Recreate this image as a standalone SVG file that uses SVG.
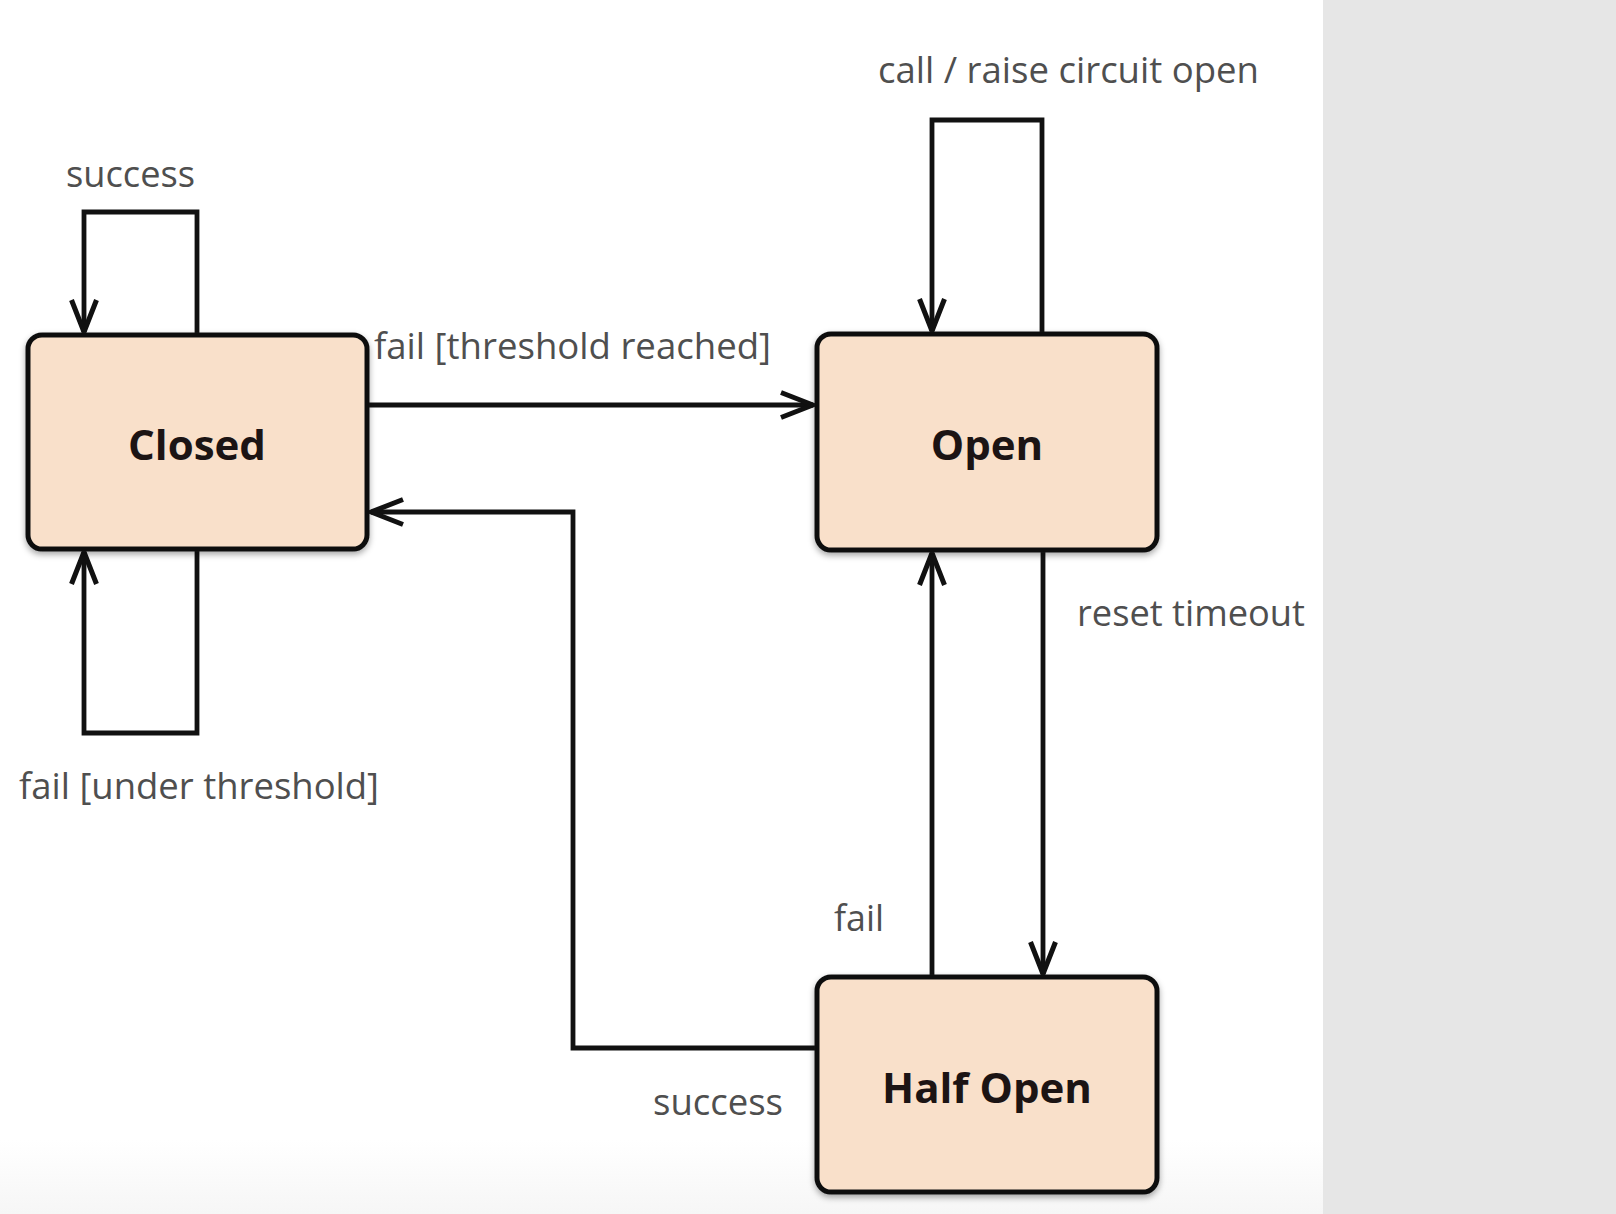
<svg xmlns="http://www.w3.org/2000/svg" width="1616" height="1214" viewBox="0 0 1616 1214">
<defs>
<linearGradient id="bottomFade" x1="0" y1="0" x2="0" y2="1">
<stop offset="0" stop-color="#ffffff"/>
<stop offset="1" stop-color="#f6f6f6"/>
</linearGradient>
<filter id="shadow" x="-10%" y="-10%" width="120%" height="130%">
<feDropShadow dx="0" dy="3" stdDeviation="3" flood-color="#000" flood-opacity="0.35"/>
</filter>
<marker id="arrow" viewBox="-36 -15 40 30" markerWidth="40" markerHeight="30" refX="0" refY="0" orient="auto" markerUnits="userSpaceOnUse">
<path d="M-32,-12.5 L0,0 L-32,12.5" fill="none" stroke="#111" stroke-width="5" stroke-linejoin="miter"/>
</marker>
</defs>
<style>
.node rect { fill: #f9e0ca; stroke: #111; stroke-width: 5; filter: url(#shadow); }
.node text { font-family: "Open Sans", "Noto Sans", sans-serif; font-weight: bold; font-size: 42px; fill: #1c1414; text-anchor: middle; }
.edge { fill: none; stroke: #111; stroke-width: 4.8; marker-end: url(#arrow); }
.lbl { font-family: "Open Sans", "Noto Sans", sans-serif; font-size: 36px; fill: #4f4f4f; }
</style>
<rect x="0" y="0" width="1616" height="1214" fill="#ffffff"/>
<rect x="0" y="1140" width="1323" height="74" fill="url(#bottomFade)"/>
<rect x="1323" y="0" width="293" height="1214" fill="#e6e6e6"/>

<g id="connectors">
<path class="edge" d="M197,335 V212 H84 V332"/>
<path class="edge" d="M197,549 V733 H84 V552"/>
<path class="edge" d="M367,405 H813"/>
<path class="edge" d="M1042,334 V120 H932 V331"/>
<path class="edge" d="M1043,550 V974"/>
<path class="edge" d="M932,977 V553"/>
<path class="edge" d="M817,1048 H573 V512 H371"/>
</g>

<g id="labels">
<text class="lbl" x="66" y="187" textLength="129" lengthAdjust="spacingAndGlyphs">success</text>
<text class="lbl" x="19" y="799" textLength="360" lengthAdjust="spacingAndGlyphs">fail [under threshold]</text>
<text class="lbl" x="374" y="359" textLength="397" lengthAdjust="spacingAndGlyphs">fail [threshold reached]</text>
<text class="lbl" x="878" y="83" textLength="381" lengthAdjust="spacingAndGlyphs">call / raise circuit open</text>
<text class="lbl" x="1077" y="626" textLength="228" lengthAdjust="spacingAndGlyphs">reset timeout</text>
<text class="lbl" x="834" y="931" textLength="50" lengthAdjust="spacingAndGlyphs">fail</text>
<text class="lbl" x="653" y="1115" textLength="130" lengthAdjust="spacingAndGlyphs">success</text>
</g>

<g id="node-closed" class="node">
<rect x="28" y="335" width="339" height="214" rx="14" ry="14"/>
<text x="197" y="460">Closed</text>
</g>
<g id="node-open" class="node">
<rect x="817" y="334" width="340" height="216" rx="14" ry="14"/>
<text x="987" y="460">Open</text>
</g>
<g id="node-halfopen" class="node">
<rect x="817" y="977" width="340" height="215" rx="14" ry="14"/>
<text x="987" y="1103">Half Open</text>
</g>
</svg>
